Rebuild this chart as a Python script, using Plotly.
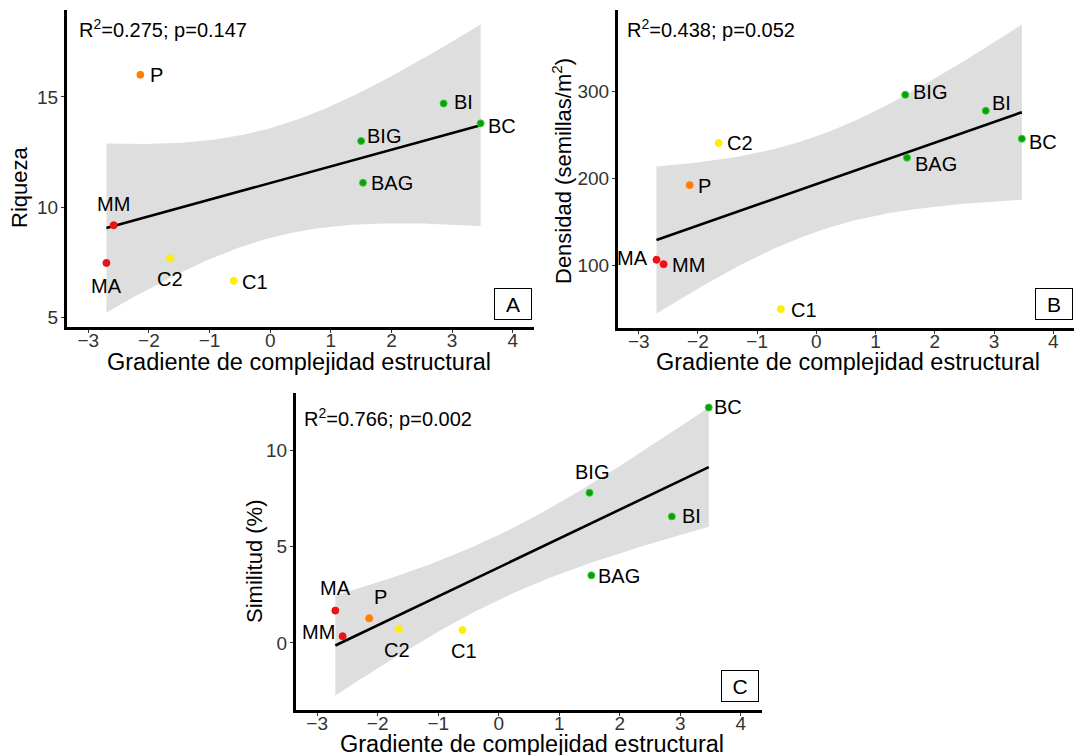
import numpy as np
import plotly.graph_objects as go

# ---------------- data ----------------
sites = ["MA", "MM", "P", "C2", "C1", "BIG", "BAG", "BI", "BC"]
gradient = [-2.70, -2.58, -2.14, -1.65, -0.60, 1.50, 1.53, 2.86, 3.47]
riqueza = [7.48, 9.19, 16.0, 7.69, 6.67, 13.0, 11.11, 14.7, 13.8]
densidad = [106.9, 101.9, 192.4, 240.6, 50.5, 295.8, 223.8, 277.5, 245.5]
similitud = [1.68, 0.35, 1.28, 0.73, 0.67, 7.80, 3.51, 6.57, 12.23]
site_colors = ["#ee1111", "#ee1111", "#ff8000", "#ffee00", "#ffee00",
               "#139a13", "#139a13", "#139a13", "#139a13"]
site_edges = ["#ee1111", "#ee1111", "#ff8000", "#ffee00", "#ffee00",
              "#2ad42a", "#2ad42a", "#2ad42a", "#2ad42a"]
stats_text = ["R<sup>2</sup>=0.275; p=0.147",
              "R<sup>2</sup>=0.438; p=0.052",
              "R<sup>2</sup>=0.766; p=0.002"]
panel_letters = ["A", "B", "C"]
y_titles = ["Riqueza", "Densidad (semillas/m<sup>2</sup>)", "Similitud (%)"]
x_title = "Gradiente de complejidad estructural"
x_ticks = [-3, -2, -1, 0, 1, 2, 3, 4]
y_ticks = [[5, 10, 15], [100, 200, 300], [0, 5, 10]]
x_limits = [-3, 4]

# ---------------- styling / layout ----------------
W, H = 1075, 755
# panel plot areas in page pixels: (left, right, top, bottom)
panels_px = [(67, 534, 10, 327), (618, 1074, 10, 328), (296, 762, 393, 710)]
# axis title centres in page pixels
xtitle_px = [(299, 362), (848, 362), (532, 744)]
ytitle_px = [(20, 188), (562, 171), (254, 562)]
letter_pos = [(0.954, 0.071), (0.957, 0.074), (0.953, 0.076)]
stats_pos = [(0.021, 0.943), (0.015, 0.943), (0.013, 0.924)]

# label placement: site -> (xshift, yshift, xanchor, yanchor)
label_place = [
    {"MA": (0, -10, "center", "top"), "MM": (0, 8, "center", "bottom"),
     "P": (8, 0, "left", "middle"), "C2": (0, -8, "center", "top"),
     "C1": (6, -1, "left", "middle"), "BIG": (4, 5, "left", "middle"),
     "BAG": (6, 0, "left", "middle"), "BI": (8, 1, "left", "middle"),
     "BC": (5, -3, "left", "middle")},
    {"MA": (-6, 2, "right", "middle"), "MM": (6, -1, "left", "middle"),
     "P": (6, -1, "left", "middle"), "C2": (6, 0, "left", "middle"),
     "C1": (8, -1, "left", "middle"), "BIG": (6, 3, "left", "middle"),
     "BAG": (6, -6, "left", "middle"), "BI": (4, 8, "left", "middle"),
     "BC": (5, -3, "left", "middle")},
    {"MA": (0, 10, "center", "bottom"), "MM": (-6, 4, "right", "middle"),
     "P": (3, 8, "left", "bottom"), "C2": (-2, -8, "center", "top"),
     "C1": (2, -8, "center", "top"), "BIG": (2, 8, "center", "bottom"),
     "BAG": (5, -1, "left", "middle"), "BI": (8, 0, "left", "middle"),
     "BC": (3, 0, "left", "middle")},
]

FONT = "Liberation Sans, Arial, sans-serif"
T975_DF7 = 2.364624


def fit_ci(x, y, xs):
    x = np.asarray(x, float)
    y = np.asarray(y, float)
    n = len(x)
    xb = x.mean()
    sxx = ((x - xb) ** 2).sum()
    b1 = ((x - xb) * (y - y.mean())).sum() / sxx
    b0 = y.mean() - b1 * xb
    res = y - (b0 + b1 * x)
    s = np.sqrt((res ** 2).sum() / (n - 2))
    fit = b0 + b1 * xs
    se = s * np.sqrt(1 / n + (xs - xb) ** 2 / sxx)
    return fit, fit - T975_DF7 * se, fit + T975_DF7 * se


fig = go.Figure()
annotations = []
layout_axes = {}
series_list = [riqueza, densidad, similitud]

for i, yvals in enumerate(series_list):
    sfx = "" if i == 0 else str(i + 1)
    xa, ya = "x" + sfx, "y" + sfx
    xs = np.linspace(min(gradient), max(gradient), 120)
    fit, lo, hi = fit_ci(gradient, yvals, xs)

    fig.add_trace(go.Scatter(x=np.concatenate([xs, xs[::-1]]),
                             y=np.concatenate([hi, lo[::-1]]),
                             fill="toself", fillcolor="#dedede",
                             line=dict(width=0), mode="lines",
                             hoverinfo="skip", showlegend=False,
                             xaxis=xa, yaxis=ya))
    fig.add_trace(go.Scatter(x=xs, y=fit, mode="lines",
                             line=dict(color="black", width=2.6),
                             showlegend=False, xaxis=xa, yaxis=ya))
    fig.add_trace(go.Scatter(x=gradient, y=yvals, mode="markers",
                             marker=dict(size=7, color=site_colors,
                                         line=dict(width=1, color=site_edges)),
                             showlegend=False, xaxis=xa, yaxis=ya))

    lo_all = min(min(yvals), lo.min())
    hi_all = max(max(yvals), hi.max())
    pad = (hi_all - lo_all) * 0.05
    yr = [lo_all - pad, hi_all + pad]
    xpad = (x_limits[1] - x_limits[0]) * 0.05
    xr = [x_limits[0] - xpad, x_limits[1] + xpad]

    l, r, t, b = panels_px[i]
    axis_common = dict(showgrid=False, zeroline=False, showline=True,
                       linecolor="black", linewidth=3, ticks="outside",
                       ticklen=3, tickwidth=1, tickcolor="#333333",
                       tickfont=dict(family=FONT, size=19, color="#333333"))
    layout_axes["xaxis" + sfx] = dict(domain=[l / W, r / W], range=xr,
                                      tickvals=x_ticks, anchor=ya,
                                      ticklabelstandoff=-9,
                                      **axis_common)
    layout_axes["yaxis" + sfx] = dict(domain=[1 - b / H, 1 - t / H], range=yr,
                                      tickvals=y_ticks[i], anchor=xa,
                                      ticklabelstandoff=-1,
                                      **axis_common)

    # point labels
    for s, xv, yv in zip(sites, gradient, yvals):
        dx, dy, xan, yan = label_place[i][s]
        annotations.append(dict(x=xv, y=yv, xref=xa, yref=ya, text=s,
                                showarrow=False, xshift=dx, yshift=dy,
                                xanchor=xan, yanchor=yan,
                                font=dict(family=FONT, size=20, color="black")))
    # stats text
    sx, sy = stats_pos[i]
    annotations.append(dict(x=sx, y=sy, xref=xa + " domain", yref=ya + " domain",
                            text=stats_text[i], showarrow=False,
                            xanchor="left", yanchor="middle",
                            font=dict(family=FONT, size=20, color="black")))
    # panel letter box
    px_, py_ = letter_pos[i]
    annotations.append(dict(x=px_, y=py_, xref=xa + " domain", yref=ya + " domain",
                            text=panel_letters[i], showarrow=False,
                            xanchor="center", yanchor="middle",
                            width=28, height=22, borderpad=4,
                            bordercolor="black", borderwidth=1,
                            bgcolor="white",
                            font=dict(family=FONT, size=21, color="black")))
    # axis titles
    cx, cy = xtitle_px[i]
    annotations.append(dict(x=cx / W, y=1 - cy / H, xref="paper", yref="paper",
                            text=x_title, showarrow=False,
                            xanchor="center", yanchor="middle",
                            font=dict(family=FONT, size=23.5, color="black")))
    cx, cy = ytitle_px[i]
    annotations.append(dict(x=cx / W, y=1 - cy / H, xref="paper", yref="paper",
                            text=y_titles[i], showarrow=False, textangle=-90,
                            xanchor="center", yanchor="middle",
                            font=dict(family=FONT, size=22, color="black")))

fig.update_layout(width=W, height=H, margin=dict(l=0, r=0, t=0, b=0),
                  paper_bgcolor="white", plot_bgcolor="white",
                  showlegend=False, annotations=annotations, **layout_axes)

fig.write_html("out.html", config={"displayModeBar": False},
               post_script="document.body.style.margin='0';document.body.style.overflow='hidden';")
